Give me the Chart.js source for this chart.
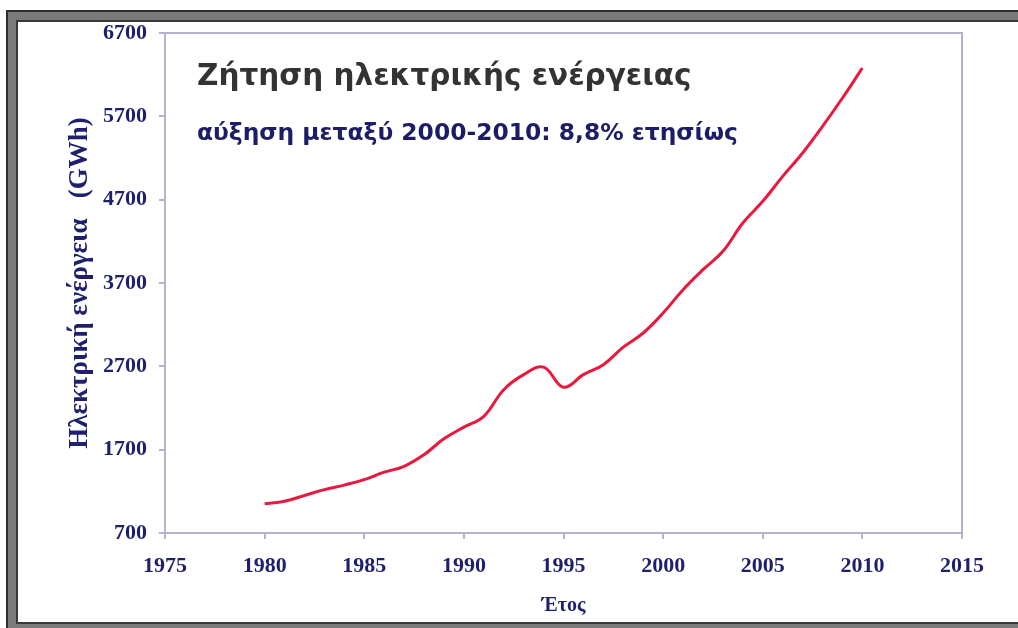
<!DOCTYPE html>
<html>
<head>
<meta charset="utf-8">
<script src="https://cdn.jsdelivr.net/npm/chart.js@4.4.1/dist/chart.umd.min.js"></script>
<style>
    html, body { margin: 0; padding: 0; background: #fff; }
    body { width: 1018px; height: 628px; position: relative; overflow: hidden; }
    #frame {
        position: absolute; left: 8px; top: 12px; width: 1040px; height: 620px;
        border: 8px solid #7a7a7a; box-sizing: border-box;
        box-shadow: inset 0 0 0 2px #3a3a3a, 0 0 0 2px #2e2e2e;
    }
    #chart { position: absolute; left: 0; top: 0; }
    .titulo { position: absolute; left: 197px; font-family: "DejaVu Sans", Verdana, sans-serif; font-weight: bold; white-space: nowrap; }
    #titulo1 { top: 58px; font-size: 29.5px; color: #333; }
    #titulo2 { top: 118px; font-size: 23.4px; color: #1c1c68; }
</style>
</head>
<body>
<div id="frame"></div>
<canvas id="chart" width="1018" height="628"></canvas>
<div id="titulo1" class="titulo">Ζήτηση ηλεκτρικής ενέργειας</div>
<div id="titulo2" class="titulo">αύξηση μεταξύ 2000-2010: 8,8% ετησίως</div>
<script>
// ζήτηση ηλεκτρικής ενέργειας ανά έτος (GWh)
const anos = [1980, 1981, 1982, 1983, 1984, 1985, 1986, 1987, 1988, 1989, 1990,
    1991, 1992, 1993, 1994, 1995, 1996, 1997, 1998, 1999, 2000,
    2001, 2002, 2003, 2004, 2005, 2006, 2007, 2008, 2009, 2010];
const demanda = [1050, 1080, 1150, 1220, 1275, 1340, 1430, 1500, 1640, 1830, 1970,
    2100, 2420, 2600, 2690, 2450, 2600, 2720, 2930, 3100, 3340,
    3620, 3860, 4080, 4420, 4680, 4980, 5260, 5580, 5920, 6280];

const ticksX = [1975, 1980, 1985, 1990, 1995, 2000, 2005, 2010, 2015];
const ticksY = [700, 1700, 2700, 3700, 4700, 5700, 6700];

const azul = '#1f1f6e';
const eixo = '#b4b4d2';
const fonteSerif = '"Liberation Serif", "Times New Roman", serif';

// contorno superior e direito da área do gráfico
const moldura = {
    id: 'moldura',
    afterDraw(chart) {
        let a = chart.chartArea;
        let ctx = chart.ctx;
        ctx.save();
        ctx.strokeStyle = eixo;
        ctx.lineWidth = 2;
        ctx.beginPath();
        ctx.moveTo(a.left, a.top);
        ctx.lineTo(a.right, a.top);
        ctx.lineTo(a.right, a.bottom);
        ctx.stroke();
        ctx.restore();
    }
};

new Chart(document.getElementById('chart'), {
    type: 'line',
    data: {
        datasets: [{
            data: anos.map((a, i) => ({ x: a, y: demanda[i] })),
            borderColor: '#e8193c',
            borderWidth: 3,
            pointRadius: 0,
            tension: 0.4,
            fill: false
        }]
    },
    options: {
        responsive: false,
        animation: false,
        layout: { padding: { left: 0, top: 33, right: 56, bottom: 0 } },
        plugins: { legend: { display: false }, tooltip: { enabled: false } },
        scales: {
            x: {
                type: 'linear',
                min: 1975,
                max: 2015,
                afterFit: s => { s.height = 95; },
                afterBuildTicks: s => { s.ticks = ticksX.map(v => ({ value: v })); },
                ticks: {
                    color: azul,
                    padding: 14,
                    maxRotation: 0,
                    font: { family: fonteSerif, size: 22, weight: 'bold' },
                    callback: v => String(v)
                },
                grid: { drawOnChartArea: false, drawTicks: true, tickLength: 6, color: eixo, lineWidth: 2 },
                border: { color: eixo, width: 2 },
                title: {
                    display: true,
                    text: 'Έτος',
                    color: azul,
                    padding: { top: 0, bottom: 10 },
                    font: { family: fonteSerif, size: 20, weight: 'bold' }
                }
            },
            y: {
                min: 700,
                max: 6700,
                afterFit: s => { s.width = 165; },
                afterBuildTicks: s => { s.ticks = ticksY.map(v => ({ value: v })); },
                ticks: {
                    color: azul,
                    padding: 12,
                    font: { family: fonteSerif, size: 22, weight: 'bold' },
                    callback: v => String(v)
                },
                grid: { drawOnChartArea: false, drawTicks: true, tickLength: 6, color: eixo, lineWidth: 2 },
                border: { color: eixo, width: 2 },
                title: {
                    display: true,
                    text: 'Ηλεκτρική ενέργεια   (GWh)',
                    color: azul,
                    padding: { top: 64, bottom: 0 },
                    font: { family: fonteSerif, size: 27, weight: 'bold' }
                }
            }
        }
    },
    plugins: [moldura]
});
</script>
</body>
</html>
